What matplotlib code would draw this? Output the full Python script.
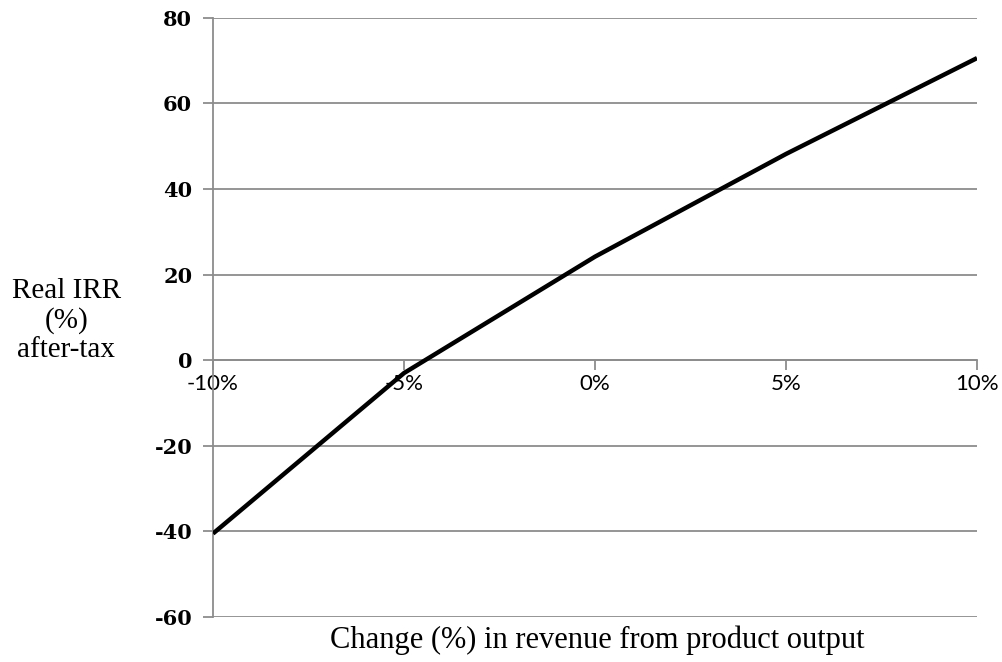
import numpy as np
import matplotlib.pyplot as plt

# Sensibilidad de la TIR real frente al cambio de ingresos
cambio = [-10, -5, 0, 5, 10]          # cambio en ingresos (%)
tir = [-40.5, -3.0, 24.2, 48.2, 70.6]  # TIR real después de impuestos (%)
x_ticks = [-10, -5, 0, 5, 10]
x_labels = ['-10%', '-5%', '0%', '5%', '10%']
y_ticks = [-60, -40, -20, 0, 20, 40, 60, 80]

gris = '#8c8c8c'

fig = plt.figure(figsize=(10.03, 6.62), dpi=100)
ax = fig.add_axes([0.2124, 0.068, 0.7617, 0.905])

ax.plot(cambio, tir, color='black', lw=3.2, solid_capstyle='butt', zorder=3)

ax.set_xlim(-10, 10)
ax.set_ylim(-60, 80)
ax.set_yticks(y_ticks)
ax.set_xticks(x_ticks)
ax.set_xticklabels(x_labels)
ax.set_yticklabels([str(v) for v in y_ticks])

ax.grid(axis='y', color=gris, lw=1.3, zorder=1)
ax.spines['top'].set_visible(False)
ax.spines['right'].set_visible(False)
ax.spines['bottom'].set_position(('data', 0))
ax.spines['bottom'].set_color(gris)
ax.spines['bottom'].set_linewidth(1.3)
ax.spines['left'].set_color(gris)
ax.spines['left'].set_linewidth(1.3)
ax.tick_params(axis='y', direction='out', length=7, color=gris, width=1.3, pad=8)
ax.tick_params(axis='x', direction='out', length=7, color=gris, width=1.3, pad=3)

for t in ax.get_xticklabels():
    t.set_family('Lato')
    t.set_fontsize(16)
for t in ax.get_yticklabels():
    t.set_family('DejaVu Serif')
    t.set_fontweight('bold')
    t.set_fontsize(15)

fig.text(0.066, 0.516, 'Real IRR\n(%)\nafter-tax', ha='center', va='center',
         family='Liberation Serif', fontsize=21, linespacing=1.15)
fig.text(0.595, 0.033, 'Change (%) in revenue from product output', ha='center',
         va='center', family='Liberation Serif', fontsize=22)

plt.savefig('out.png', dpi=100)
